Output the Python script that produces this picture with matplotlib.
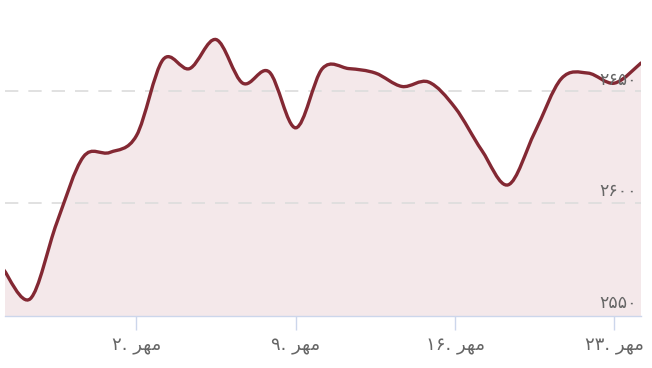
import matplotlib.pyplot as plt
import numpy as np
from matplotlib.path import Path
from matplotlib.patches import PathPatch

# price series (one point per trading day)
values = [2570, 2557, 2591, 2620.5, 2622.5, 2630, 2664, 2660, 2673, 2653.5,
          2658.5, 2633.5, 2660, 2660, 2658, 2652, 2654, 2642.5, 2623.5, 2608,
          2631.5, 2655.5, 2658, 2653.5, 2662.5]
tick_idx = [5, 11, 17, 23]
tick_days = ['۲', '۹', '۱۶', '۲۳']
mehr = '\ufeae\ufeec\ufee3'  # "مهر" shaped, visual order
tick_labels = [d + '. ' + mehr for d in tick_days]
ytick_vals = [2550, 2600, 2650]
ytick_labels = ['۲۵۵۰', '۲۶۰۰', '۲۶۵۰']

line_color = '#832833'
fill_color = '#f4e8ea'

x = np.arange(len(values), dtype=float)
y = np.array(values, dtype=float)


def spline_path(x, y, closed_base=None):
    n = len(x)
    verts = [(x[0], y[0])]
    codes = [Path.MOVETO]
    for i in range(n - 1):
        xp, yp = (x[i - 1], y[i - 1]) if i > 0 else (x[i], y[i])
        xn, yn = (x[i + 2], y[i + 2]) if i + 2 < n else (x[i + 1], y[i + 1])
        c1 = (x[i] + (x[i + 1] - xp) / 6, y[i] + (y[i + 1] - yp) / 6)
        c2 = (x[i + 1] - (xn - x[i]) / 6, y[i + 1] - (yn - y[i]) / 6)
        verts += [c1, c2, (x[i + 1], y[i + 1])]
        codes += [Path.CURVE4] * 3
    if closed_base is not None:
        verts += [(x[-1], closed_base), (x[0], closed_base), (x[0], y[0])]
        codes += [Path.LINETO, Path.LINETO, Path.CLOSEPOLY]
    return Path(verts, codes)


fig = plt.figure(figsize=(6.52, 3.68), dpi=100)
ax = fig.add_axes([5 / 652, 52 / 368, 636 / 652, 316 / 368])
ymin, ymax = 2549.3, 2690.7
ax.set_xlim(0.05, len(values) - 1)
ax.set_ylim(ymin, ymax)

ax.add_patch(PathPatch(spline_path(x, y, ymin), facecolor=fill_color,
                       edgecolor='none', zorder=1))
for v in ytick_vals[1:]:
    ax.axhline(v, color='#dcdcdc', lw=1.2, dashes=(8, 6), zorder=2)
ax.add_patch(PathPatch(spline_path(x, y), facecolor='none',
                       edgecolor=line_color, lw=2.4, capstyle='round',
                       zorder=3))

for v, lab in zip(ytick_vals, ytick_labels):
    ax.text(0.993, v + 1.0, lab, transform=ax.get_yaxis_transform(),
            ha='right', va='bottom', fontsize=12.5, color='#666666',
            family='DejaVu Sans', zorder=4)

for s in ['top', 'right', 'left']:
    ax.spines[s].set_visible(False)
ax.spines['bottom'].set_color('#ccd6eb')
ax.spines['bottom'].set_linewidth(1)
ax.set_yticks([])
ax.set_xticks(tick_idx)
ax.set_xticklabels(tick_labels, fontsize=13, color='#666666',
                   family='DejaVu Sans')
ax.tick_params(axis='x', length=10, width=1, color='#ccd6eb', pad=5)

fig.savefig('out.png', dpi=100)
